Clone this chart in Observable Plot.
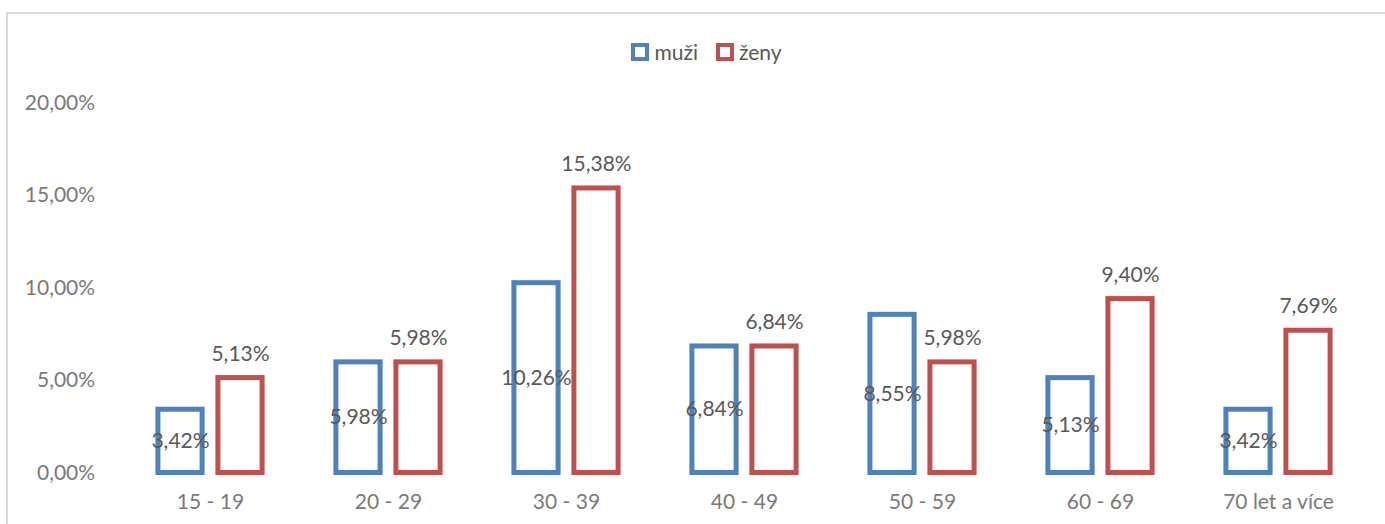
<!DOCTYPE html>
<html>
<head>
<meta charset="utf-8">
<script src="https://cdn.jsdelivr.net/npm/d3@7"></script>
<script src="https://cdn.jsdelivr.net/npm/@observablehq/plot@0.6"></script>
<style>
  html, body { margin: 0; padding: 0; background: #fff; }
  #wrap { position: relative; width: 1385px; height: 524px; overflow: hidden; font-family: Lato, "Open Sans", sans-serif; }
  #frame { position: absolute; left: 6px; top: 12px; width: 1500px; height: 700px; border-left: 2px solid #d9d9d9; border-top: 2px solid #d9d9d9; }
  #legend { position: absolute; top: 39px; left: 0; width: 1385px; display: flex; justify-content: center; gap: 18px; font-size: 21px; color: #595959; padding-left: 28px; box-sizing: border-box; }
  .item { display: flex; align-items: center; gap: 5px; }
  .sw { width: 10px; height: 10px; border: 4px solid; background: #fff; }
  #chart { position: absolute; left: 0; top: 0; }
</style>
</head>
<body>
<div id="wrap">
  <div id="frame"></div>
  <div id="chart"></div>
  <div id="legend"></div>
</div>
<script>
const categories = ["15 - 19", "20 - 29", "30 - 39", "40 - 49", "50 - 59", "60 - 69", "70 let a více"];
const seriesNames = ["muži", "ženy"];
const seriesColors = ["#4f81bd", "#c0504d"];
const muzi = [3.42, 5.98, 10.26, 6.84, 8.55, 5.13, 3.42];
const zeny = [5.13, 5.98, 15.38, 6.84, 5.98, 9.40, 7.69];
const yTicks = [0, 5, 10, 15, 20];

const fmt = v => v.toFixed(2).replace(".", ",") + "%";
const dataM = categories.map((c, i) => ({cat: c, v: muzi[i]}));
const dataZ = categories.map((c, i) => ({cat: c, v: zeny[i]}));

const barInset = 66.9;
const off = 30;
const fs = 21;

const plot = Plot.plot({
  width: 1385,
  height: 524,
  marginTop: 102.5,
  marginBottom: 51.5,
  marginLeft: 117.6,
  marginRight: 15.6,
  style: {fontFamily: "Lato, 'Open Sans', sans-serif", fontSize: fs + "px", background: "transparent"},
  x: {domain: categories, padding: 0, label: null, tickSize: 0, tickPadding: 21},
  y: {domain: [0, 20], ticks: yTicks, tickFormat: fmt, label: null, tickSize: 0, tickPadding: 23},
  marks: [
    Plot.barY(dataM, {x: "cat", y: "v", dx: -off, insetLeft: barInset, insetRight: barInset, fill: "#fff", stroke: seriesColors[0], strokeWidth: 5}),
    Plot.barY(dataZ, {x: "cat", y: "v", dx: off, insetLeft: barInset, insetRight: barInset, fill: "#fff", stroke: seriesColors[1], strokeWidth: 5}),
    Plot.text(dataM, {x: "cat", y: d => d.v / 2, dx: -off, text: d => fmt(d.v), fill: "#595959", fontSize: fs}),
    Plot.text(dataZ, {x: "cat", y: "v", dx: off, dy: -24, text: d => fmt(d.v), fill: "#595959", fontSize: fs})
  ]
});
plot.querySelectorAll("[aria-label='x-axis tick label'], [aria-label='y-axis tick label']").forEach(g => g.setAttribute("fill", "#7a7a7a"));
document.getElementById("chart").appendChild(plot);

const legend = document.getElementById("legend");
seriesNames.forEach((n, i) => {
  const it = document.createElement("div");
  it.className = "item";
  const sw = document.createElement("div");
  sw.className = "sw";
  sw.style.borderColor = seriesColors[i];
  const lb = document.createElement("span");
  lb.textContent = n;
  it.appendChild(sw);
  it.appendChild(lb);
  legend.appendChild(it);
});
</script>
</body>
</html>
